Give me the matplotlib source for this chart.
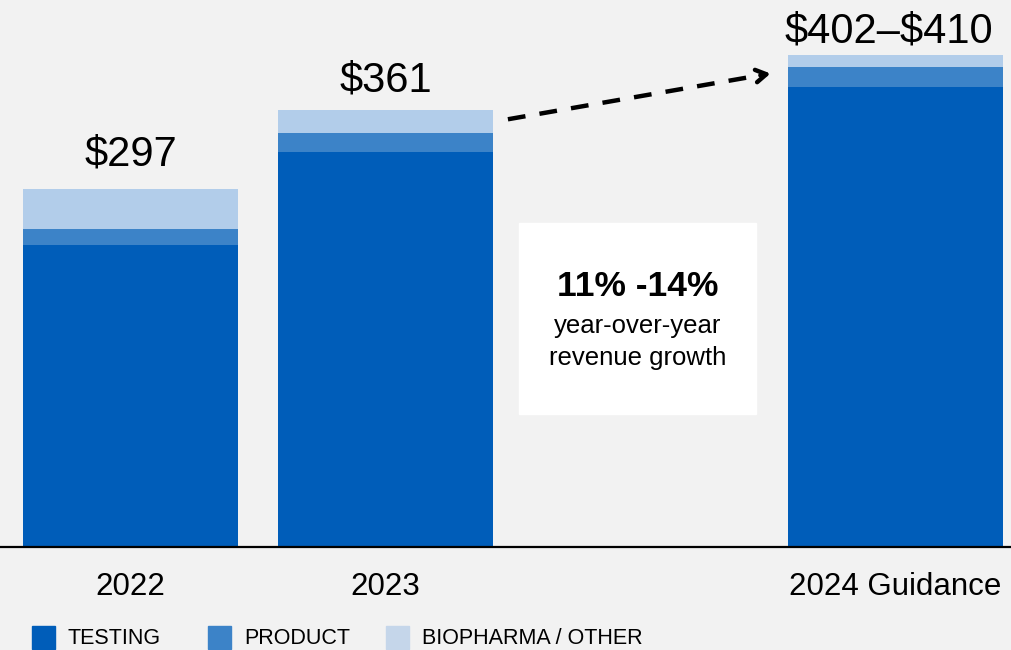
import matplotlib
matplotlib.use('Agg')
from matplotlib import pyplot as plt
from matplotlib.patches import Rectangle

categories = ['2022', '2023', '2024 Guidance']
testing = [250.5, 328, 381.5]
product = [13.3, 15.8, 16.5]
biopharma = [33.2, 19.2, 10]
total_labels = [r'\$297', r'\$361', '\\$402\u2013\\$410']
legend_labels = ['TESTING', 'PRODUCT', 'BIOPHARMA / OTHER']

x_pos = [0, 1, 3]
label_gap = [17, 13, 9]  # points above bar top
label_dx = [0, 0, -5]    # points, horizontal nudge
legend_px = [32, 208, 386]  # left edge of each legend square, pixels

C_TEST = '#005DB9'
C_PROD = '#3C83C8'
C_BIO = '#B2CDEA'
C_BIO_LEG = '#C5D6EA'
BG = '#F2F2F2'

plt.rcParams['font.family'] = ['Liberation Sans', 'DejaVu Sans']

W, H = 1012, 650
fig = plt.figure(figsize=(W / 100, H / 100), dpi=100, facecolor=BG)
ax = fig.add_axes([0, 0.1585, 1, 0.8415])
ax.set_facecolor(BG)

w = 0.843
ax.bar(x_pos, testing, w, color=C_TEST)
bottom2 = [a + b for a, b in zip(testing, product)]
ax.bar(x_pos, product, w, bottom=testing, color=C_PROD)
ax.bar(x_pos, biopharma, w, bottom=bottom2, color=C_BIO)

tops = [a + b for a, b in zip(bottom2, biopharma)]
for xp, top, lab, gap, dx in zip(x_pos, tops, total_labels, label_gap, label_dx):
    ax.annotate(lab, (xp, top), xytext=(dx, gap), textcoords='offset points',
                ha='center', va='baseline', fontsize=30, color='black')

ax.set_xlim(-0.512, 3.457)
ax.set_ylim(0, 454)

ax.set_xticks(x_pos)
ax.set_xticklabels(categories, fontsize=22.5)
ax.tick_params(axis='x', length=0, pad=18)
ax.set_yticks([])
for s in ['left', 'right', 'top']:
    ax.spines[s].set_visible(False)
ax.spines['bottom'].set_linewidth(1.6)
ax.spines['bottom'].set_color('black')

# dashed growth arrow from 2023 bar to guidance bar
start = (1.48, 355)
end = (2.51, 393)
ax.plot([start[0], end[0] - 0.03], [start[1], end[1] - 1.1], color='black',
        lw=3.2, ls=(0, (4, 3.2)), solid_capstyle='butt')
ax.annotate('', xy=end, xytext=(end[0] - 0.04, end[1] - 1.48),
            arrowprops=dict(arrowstyle='->,head_length=0.75,head_width=0.45',
                            lw=3.2, color='black', shrinkA=0, shrinkB=0))

# growth call-out box
ax.add_patch(Rectangle((1.524, 110), 0.93, 158.5, color='white', zorder=3))
ax.text(1.99, 216.5, '11% -14%', ha='center', va='center', fontsize=25.5,
        fontweight='bold', zorder=4)
ax.text(1.99, 183, 'year-over-year', ha='center', va='center', fontsize=18.5, zorder=4)
ax.text(1.99, 157, 'revenue growth', ha='center', va='center', fontsize=18.5, zorder=4)

# legend along the bottom edge
for px, lab, c in zip(legend_px, legend_labels, (C_TEST, C_PROD, C_BIO_LEG)):
    fig.patches.append(Rectangle((px / W, (H - 649) / H), 23 / W, 23 / H,
                                 transform=fig.transFigure, color=c))
    fig.text((px + 36) / W, (H - 638.5) / H, lab, fontsize=15.5,
             ha='left', va='center')

fig.savefig('out.png', dpi=100, facecolor=BG)
